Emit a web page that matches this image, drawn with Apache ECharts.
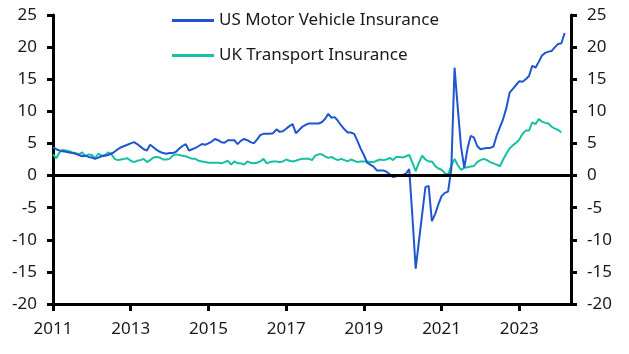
<!DOCTYPE html>
<html>
<head>
<meta charset="utf-8">
<script src="https://cdn.jsdelivr.net/npm/echarts@6/dist/echarts.min.js"></script>
<style>
  html, body { margin: 0; padding: 0; background: #fff; }
  #chart { width: 629px; height: 354px; }
</style>
</head>
<body>
<div id="chart"></div>
<script>
// monthly, starting Jan 2011
const startYear = 2011;
const yearTicks = [2011, 2013, 2015, 2017, 2019, 2021, 2023];

const usMotor = [
    4.4, 4.1, 3.9, 3.8, 3.7, 3.6, 3.5, 3.4, 3.2, 3.0, 3.1, 2.9,
    2.8, 2.6, 2.8, 3.0, 3.1, 3.2, 3.4, 3.7, 4.1, 4.4, 4.6, 4.8,
    5.0, 5.2, 4.9, 4.5, 4.1, 3.9, 4.8, 4.4, 4.0, 3.7, 3.5, 3.4,
    3.5, 3.5, 3.7, 4.2, 4.6, 4.9, 3.9, 4.1, 4.3, 4.6, 4.9, 4.8,
    5.0, 5.3, 5.7, 5.5, 5.2, 5.1, 5.5, 5.5, 5.5, 4.9, 5.4, 5.7,
    5.5, 5.2, 5.0, 5.6, 6.3, 6.5, 6.5, 6.5, 6.6, 7.2, 6.8, 6.9,
    7.3, 7.7, 8.0, 6.6, 7.1, 7.6, 7.9, 8.1, 8.1, 8.1, 8.1, 8.3,
    8.8, 9.6, 9.0, 9.1, 8.5, 7.8, 7.2, 6.7, 6.7, 6.5, 5.4, 4.2,
    3.2, 2.0, 1.7, 1.4, 0.8, 0.8, 0.8, 0.6, 0.2, -0.25, -0.1, 0.1,
    0.1, 0.3, 1.0, -6.5, -14.5, -10.2, -6.0, -1.8, -1.6, -7.1, -6.0, -4.5,
    -3.2, -2.7, -2.5, 1.0, 16.8, 10.5, 4.5, 1.2, 4.2, 6.2, 5.9, 4.6,
    4.1, 4.2, 4.3, 4.3, 4.5, 6.2, 7.5, 8.8, 10.5, 12.9, 13.5, 14.1,
    14.7, 14.6, 15.0, 15.5, 17.1, 16.8, 17.7, 18.7, 19.1, 19.3, 19.4, 20.0,
    20.5, 20.6, 22.2
];

const ukTransport = [
    3.3, 2.7, 3.6, 4.0, 3.9, 3.8, 3.6, 3.5, 3.3, 3.6, 3.0, 3.3,
    3.2, 2.7, 3.4, 3.1, 3.2, 3.6, 3.4, 2.6, 2.4, 2.5, 2.6, 2.7,
    2.3, 2.1, 2.3, 2.4, 2.6, 2.1, 2.4, 2.8, 2.9, 2.8, 2.5, 2.5,
    2.6, 3.1, 3.3, 3.2, 3.1, 3.0, 2.8, 2.6, 2.6, 2.3, 2.2, 2.1,
    2.0, 2.0, 2.0, 2.0, 1.9, 2.1, 2.3, 1.7, 2.2, 1.9, 1.9, 1.7,
    2.2, 2.0, 1.9, 2.0, 2.2, 2.6, 1.9, 2.1, 2.2, 2.2, 2.1, 2.2,
    2.5, 2.3, 2.2, 2.3, 2.5, 2.6, 2.6, 2.6, 2.4, 3.1, 3.3, 3.3,
    3.0, 2.75, 2.9, 2.6, 2.4, 2.6, 2.4, 2.2, 2.5, 2.3, 2.1, 2.2,
    2.2, 2.2, 2.1, 2.1, 2.3, 2.5, 2.4, 2.5, 2.75, 2.4, 2.9, 2.9,
    2.8, 3.0, 3.2, 2.0, 0.7, 2.0, 3.1, 2.5, 2.2, 2.2, 1.5, 1.1,
    0.9, 0.4, 0.1, 1.5, 2.6, 1.6, 0.9, 1.2, 1.3, 1.4, 1.5, 2.1,
    2.4, 2.6, 2.4, 2.1, 1.9, 1.7, 1.45, 2.5, 3.4, 4.2, 4.7, 5.1,
    5.6, 6.5, 7.0, 7.0, 8.3, 8.0, 8.8, 8.4, 8.2, 8.1, 7.6, 7.3,
    7.1, 6.7
];

function toPoints(values) {
    return values.map((v, i) => [startYear + i / 12, v]);
}

const chart = echarts.init(document.getElementById('chart'));
const font = '"Noto Sans", sans-serif';

const yAxisBase = {
    type: 'value',
    min: -20,
    max: 25,
    interval: 5,
    splitLine: { show: false },
    axisLine: { show: true, onZero: false, lineStyle: { color: '#000', width: 3 } },
    axisTick: { show: true, length: 6, lineStyle: { color: '#000', width: 3 } },
    axisLabel: { color: '#1a1a1a', fontSize: 17, fontFamily: font, margin: 16 }
};

chart.setOption({
    animation: false,
    grid: { left: 53, right: 58, top: 15, bottom: 50, containLabel: false },
    legend: {
        orient: 'vertical',
        left: 167,
        top: 5,
        itemWidth: 42,
        itemHeight: 3,
        itemGap: 14,
        icon: 'rect',
        textStyle: { fontSize: 17, fontFamily: font, color: '#1a1a1a', lineHeight: 21 },
        data: ['US Motor Vehicle Insurance', 'UK Transport Insurance']
    },
    xAxis: {
        type: 'value',
        min: 2011,
        max: 2024.33,
        splitLine: { show: false },
        axisLine: { show: true, onZero: false, lineStyle: { color: '#000', width: 3 } },
        axisTick: { show: true, length: 7, customValues: yearTicks, lineStyle: { color: '#000', width: 3 } },
        axisLabel: {
            customValues: yearTicks,
            color: '#1a1a1a', fontSize: 17, fontFamily: font, margin: 17,
            formatter: v => String(Math.round(v))
        }
    },
    yAxis: [
        Object.assign({}, yAxisBase, { position: 'left' }),
        Object.assign({}, yAxisBase, { position: 'right' })
    ],
    series: [
        {
            name: 'US Motor Vehicle Insurance',
            type: 'line',
            data: toPoints(usMotor),
            showSymbol: false,
            color: '#1f55d0',
            lineStyle: { width: 2 },
            z: 3,
            markLine: {
                silent: true,
                symbol: 'none',
                label: { show: false },
                lineStyle: { color: '#000', width: 3, type: 'solid' },
                data: [{ yAxis: 0 }]
            }
        },
        {
            name: 'UK Transport Insurance',
            type: 'line',
            data: toPoints(ukTransport),
            showSymbol: false,
            color: '#17bfa4',
            lineStyle: { width: 2 },
            z: 2
        }
    ]
});
</script>
</body>
</html>
